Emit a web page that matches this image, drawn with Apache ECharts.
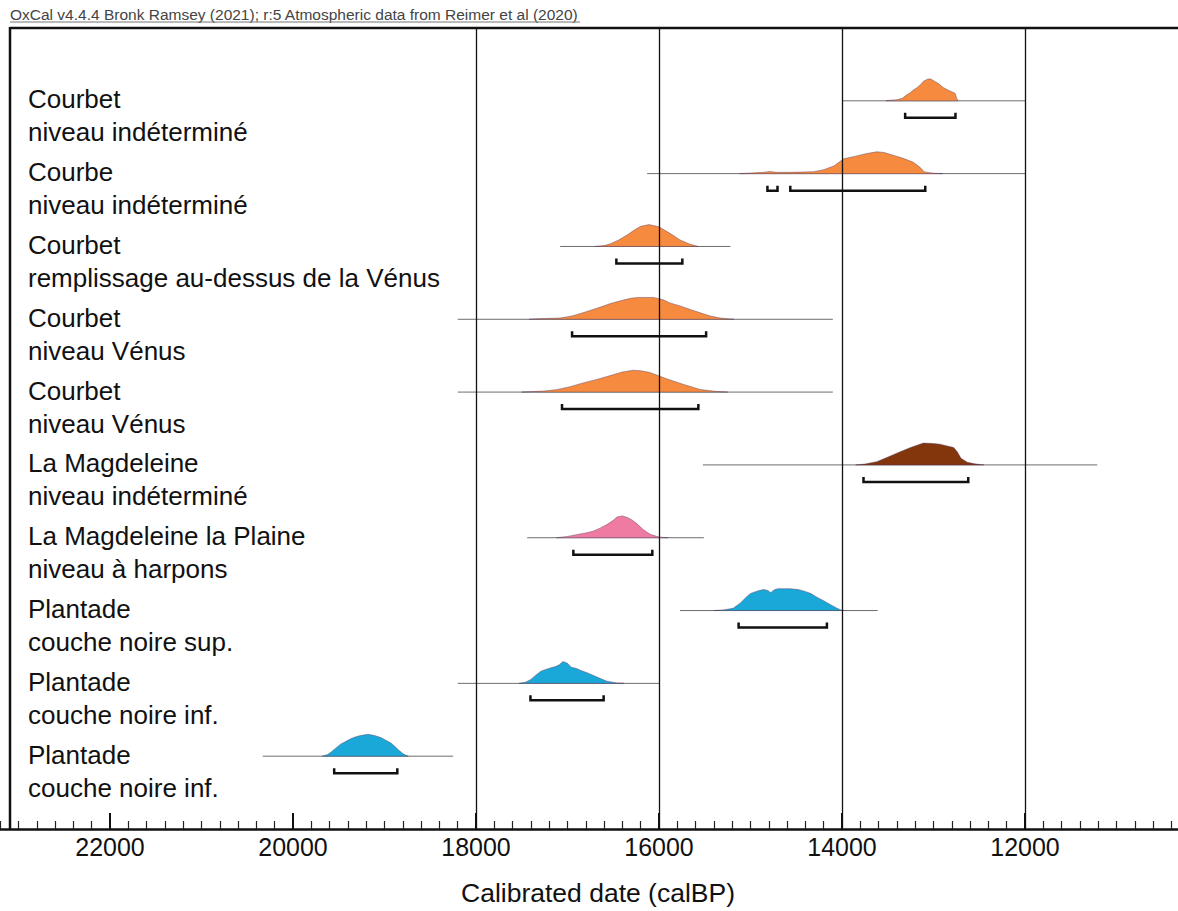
<!DOCTYPE html>
<html lang="fr">
  <head>
    <meta charset="UTF-8" />
    <title>OxCal - dates calibrées</title>
    <script src="https://cdn.jsdelivr.net/npm/echarts@6/dist/echarts.min.js"></script>
    <style>
      html, body { margin: 0; padding: 0; background: #fff; overflow: hidden; }
      /* le cadre du graphique déborde à gauche et à droite de la fenêtre */
      #main { position: absolute; left: -73px; top: 0; width: 1281px; height: 911px; }
    </style>
  </head>
  <body>
    <div id="main"></div>
    <script>
      var header = 'OxCal v4.4.4 Bronk Ramsey (2021); r:5 Atmospheric data from Reimer et al (2020)';
      var axisTitle = 'Calibrated date (calBP)';

      var labels = [
        ['Courbet', 'niveau indéterminé'],
        ['Courbe', 'niveau indéterminé'],
        ['Courbet', 'remplissage au-dessus de la Vénus'],
        ['Courbet', 'niveau Vénus'],
        ['Courbet', 'niveau Vénus'],
        ['La Magdeleine', 'niveau indéterminé'],
        ['La Magdeleine la Plaine', 'niveau à harpons'],
        ['Plantade', 'couche noire sup.'],
        ['Plantade', 'couche noire inf.'],
        ['Plantade', 'couche noire inf.']
      ];

      var colors = ['#f68b3f', '#f68b3f', '#f68b3f', '#f68b3f', '#f68b3f',
                    '#83360c', '#ef7aa2', '#1aa8d8', '#1aa8d8', '#1aa8d8'];

      // étendue de la ligne de base [de, à] en calBP
      var baseRanges = [
        [14000, 12000], [16130, 12000], [17080, 15220], [18200, 14100], [18200, 14100],
        [15520, 11210], [17440, 15510], [15770, 13610], [18200, 15990], [20330, 18250]
      ];

      // intervalles 95.4% : [ligne, de, à]
      var ranges = [
        [0, 13310, 12760],
        [1, 14815, 14705], [1, 14565, 13090],
        [2, 16466, 15745],
        [3, 16950, 15485],
        [4, 17060, 15570],
        [5, 13765, 12620],
        [6, 16936, 16073],
        [7, 15130, 14165],
        [8, 17405, 16605],
        [9, 19550, 18860]
      ];

      // densités relatives [calBP, densité]
      var dist1 = [[13520,0],[13490,0.02],[13400,0.05],[13340,0.12],[13300,0.25],[13255,0.37],[13220,0.5],[13180,0.6],[13140,0.75],[13110,0.9],[13060,1],[13030,1],[12990,0.9],[12950,0.8],[12890,0.6],[12820,0.45],[12765,0.35],[12745,0.1],[12730,0]];
      var dist2 = [[15120,0],[15000,0.03],[14850,0.06],[14790,0.1],[14720,0.06],[14600,0.06],[14450,0.07],[14310,0.09],[14200,0.18],[14090,0.35],[13980,0.68],[13850,0.8],[13730,0.92],[13620,1],[13540,0.97],[13440,0.84],[13330,0.7],[13220,0.52],[13150,0.3],[13100,0.08],[13000,0.02],[12900,0]];
      var dist3 = [[16700,0],[16600,0.04],[16530,0.12],[16440,0.3],[16350,0.52],[16270,0.75],[16200,0.92],[16110,1],[16000,0.9],[15940,0.75],[15880,0.6],[15770,0.3],[15660,0.1],[15570,0]];
      var dist4 = [[17420,0],[17330,0.02],[17080,0.06],[16950,0.15],[16830,0.3],[16680,0.5],[16530,0.72],[16400,0.87],[16310,0.96],[16230,1],[16060,1],[15960,0.9],[15880,0.75],[15760,0.6],[15660,0.45],[15550,0.3],[15440,0.15],[15330,0.06],[15250,0.02],[15180,0]];
      var dist5 = [[17500,0],[17400,0.02],[17250,0.05],[17110,0.12],[16970,0.25],[16830,0.42],[16680,0.58],[16530,0.76],[16400,0.92],[16280,1],[16200,0.98],[16100,0.9],[15910,0.6],[15730,0.35],[15550,0.12],[15370,0.03],[15250,0]];
      var dist6 = [[13850,0],[13750,0.04],[13620,0.15],[13530,0.3],[13440,0.47],[13350,0.63],[13250,0.8],[13110,1],[13000,0.98],[12930,0.95],[12850,0.87],[12780,0.8],[12740,0.6],[12700,0.3],[12630,0.12],[12550,0.05],[12490,0.02],[12450,0]];
      var dist7 = [[17120,0],[17000,0.06],[16890,0.15],[16800,0.22],[16720,0.3],[16640,0.45],[16570,0.6],[16500,0.8],[16460,0.95],[16400,1],[16340,0.92],[16290,0.8],[16230,0.6],[16180,0.4],[16130,0.25],[16090,0.15],[16000,0.03],[15900,0]];
      var dist8 = [[15400,0],[15300,0.03],[15190,0.1],[15110,0.35],[15050,0.6],[15000,0.78],[14920,0.9],[14860,0.96],[14810,0.92],[14780,0.82],[14740,0.95],[14700,1],[14570,1],[14480,0.96],[14420,0.9],[14340,0.78],[14270,0.6],[14200,0.45],[14130,0.28],[14060,0.12],[14020,0.04],[13980,0]];
      var dist9 = [[17530,0],[17460,0.05],[17400,0.18],[17340,0.4],[17290,0.56],[17230,0.65],[17190,0.7],[17130,0.77],[17090,0.85],[17050,1],[17000,0.92],[16960,0.74],[16900,0.68],[16860,0.6],[16780,0.48],[16710,0.35],[16640,0.22],[16570,0.1],[16460,0.02],[16380,0]];
      var dist10 = [[19680,0],[19620,0.08],[19580,0.2],[19530,0.38],[19480,0.55],[19420,0.68],[19370,0.8],[19320,0.88],[19260,0.95],[19180,1],[19110,0.95],[19040,0.85],[18990,0.74],[18930,0.6],[18880,0.42],[18850,0.3],[18800,0.12],[18770,0.05],[18740,0]];
      var dists = [dist1, dist2, dist3, dist4, dist5, dist6, dist7, dist8, dist9, dist10];

      var gridYears = [18000, 16000, 14000, 12000];
      var majorTicks = [22000, 20000, 18000, 16000, 14000, 12000];

      var PEAK = 0.3; // hauteur du pic en unités de ligne
      var OFF = 73;   // décalage du conteneur (px)
      var FONT = "'Liberation Sans', Arial, sans-serif";

      var chart = echarts.init(document.getElementById('main'), null, { renderer: 'svg' });

      function distSeries(row) {
        var pts = dists[row];
        return {
          type: 'custom',
          silent: true,
          data: pts,
          encode: { x: 0, y: 1 },
          z: 3,
          renderItem: function (params, api) {
            if (params.dataIndex !== 0) return null;
            var poly = pts.map(function (p) {
              return api.coord([p[0], row + 1 - p[1] * PEAK]);
            });
            return {
              type: 'polygon',
              shape: { points: poly },
              style: { fill: colors[row], stroke: 'rgba(80,50,90,0.6)', lineWidth: 0.7 }
            };
          }
        };
      }

      var series = [];

      // lignes de base
      series.push({
        type: 'custom',
        silent: true,
        data: baseRanges.map(function (r, i) { return [i, r[0], r[1]]; }),
        encode: { x: [1, 2], y: 0 },
        z: 2,
        renderItem: function (params, api) {
          var row = api.value(0);
          var a = api.coord([api.value(1), row + 1]);
          var b = api.coord([api.value(2), row + 1]);
          return {
            type: 'line',
            shape: { x1: a[0], y1: a[1], x2: b[0], y2: b[1] },
            style: { stroke: '#6d6d6d', lineWidth: 1 }
          };
        }
      });

      for (var i = 0; i < dists.length; i++) series.push(distSeries(i));

      // intervalles (crochets)
      series.push({
        type: 'custom',
        silent: true,
        data: ranges,
        encode: { x: [1, 2], y: 0 },
        z: 4,
        renderItem: function (params, api) {
          var row = api.value(0);
          var a = api.coord([api.value(1), row + 1]);
          var b = api.coord([api.value(2), row + 1]);
          var y = a[1] + 17;
          return {
            type: 'polyline',
            shape: { points: [[a[0], y - 5], [a[0], y], [b[0], y], [b[0], y - 5]] },
            style: { stroke: '#111', lineWidth: 2.5, fill: null }
          };
        }
      });

      // étiquettes des lignes
      series.push({
        type: 'custom',
        silent: true,
        data: labels.map(function (l, i) { return [18000, i]; }),
        encode: { x: 0, y: 1 },
        z: 5,
        renderItem: function (params, api) {
          var row = api.value(1);
          var y = api.coord([18000, row + 1])[1];
          var l = labels[row];
          return {
            type: 'group',
            children: [
              { type: 'text', x: OFF + 28, y: y - 1.5,
                style: { text: l[0], fill: '#111', font: '26px ' + FONT, textVerticalAlign: 'middle' } },
              { type: 'text', x: OFF + 28, y: y + 31.5,
                style: { text: l[1], fill: '#111', font: '26px ' + FONT, textVerticalAlign: 'middle' } }
            ]
          };
        }
      });

      // graduations principales (vers l'intérieur)
      series.push({
        type: 'custom',
        silent: true,
        clip: false,
        data: majorTicks.map(function (v) { return [v, 11]; }),
        encode: { x: 0, y: 1 },
        z: 6,
        renderItem: function (params, api) {
          var p = api.coord([api.value(0), 11]);
          return {
            type: 'line',
            shape: { x1: p[0], y1: p[1], x2: p[0], y2: p[1] - 16 },
            style: { stroke: '#111', lineWidth: 1.8 }
          };
        }
      });

      // lignes verticales
      series.push({
        type: 'line',
        data: [],
        z: 6,
        markLine: {
          silent: true,
          symbol: 'none',
          label: { show: false },
          lineStyle: { color: '#111', width: 1.3, type: 'solid' },
          data: gridYears.map(function (v) { return { xAxis: v }; })
        }
      });

      var option = {
        animation: false,
        backgroundColor: '#fff',
        grid: { left: 0, right: 0, top: 28, bottom: 82, outerBoundsMode: 'none' },
        xAxis: {
          type: 'value',
          position: 'bottom',
          inverse: true,
          min: 10000,
          max: 24000,
          interval: 2000,
          axisLine: { onZero: false, lineStyle: { color: '#111', width: 2.5 } },
          axisTick: { show: true, inside: true, length: 16, lineStyle: { color: '#111', width: 2 } },
          minorTick: { show: true, splitNumber: 10, length: 8, lineStyle: { color: '#222', width: 1.2 } },
          splitLine: { show: false },
          axisLabel: {
            color: '#111', fontSize: 25, fontFamily: FONT, margin: 5,
            showMinLabel: false, showMaxLabel: false,
            formatter: function (v) { return String(v); }
          }
        },
        yAxis: { type: 'value', min: 0, max: 11, inverse: true, show: false },
        graphic: [
          { type: 'text', x: OFF + 10, y: 6, style: { text: header, fill: '#444', font: '15.5px ' + FONT } },
          { type: 'line', shape: { x1: OFF + 10, y1: 22, x2: OFF + 580, y2: 22 }, style: { stroke: '#777', lineWidth: 1 } },
          { type: 'line', shape: { x1: OFF + 10, y1: 28, x2: 1281, y2: 28 }, style: { stroke: '#111', lineWidth: 2.5 } },
          { type: 'line', shape: { x1: OFF + 10, y1: 27, x2: OFF + 10, y2: 830 }, style: { stroke: '#111', lineWidth: 2.5 } },
          { type: 'text', x: OFF + 598, y: 893,
            style: { text: axisTitle, fill: '#111', font: '26.5px ' + FONT, textAlign: 'center', textVerticalAlign: 'middle' } }
        ],
        series: series
      };

      chart.setOption(option);
    </script>
  </body>
</html>
